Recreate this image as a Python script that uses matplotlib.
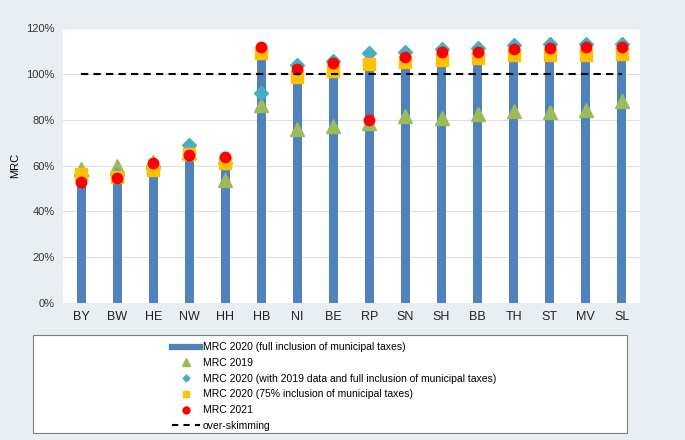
import numpy as np
import matplotlib.pyplot as plt
from matplotlib.lines import Line2D
from matplotlib.patches import Rectangle

plt.rcParams['font.family'] = ['Liberation Sans', 'DejaVu Sans']

# Datos (valores en %)
estados = ["BY", "BW", "HE", "NW", "HH", "HB", "NI", "BE",
           "RP", "SN", "SH", "BB", "TH", "ST", "MV", "SL"]
mrc2020_full = [55, 55, 59, 66, 61, 110, 100, 103, 106, 107, 108, 108.5, 110, 110, 110, 110]
mrc2019 = [58.5, 60, 61.5, 66, 53.7, 86.4, 76.2, 77.2, 78.7, 81.7, 80.6, 82.5, 83.8, 83.2, 84.2, 88.1]
mrc2020_datos2019 = [56, 56, 60, 69, 61, 91.5, 104.1, 105.6, 109, 109.7, 110.7, 111.4, 112.6, 112.9, 112.9, 113]
mrc2020_75 = [56.2, 55, 58, 65.3, 61, 109.2, 98.8, 101.2, 104.3, 105.3, 106.3, 106.8, 108.2, 108.5, 108.2, 108.7]
mrc2021 = [53, 54.4, 61, 64.6, 63.8, 111.6, 102, 104.6, 79.9, 107.2, 109.4, 109.7, 110.8, 111.4, 111.6, 111.6]
umbral = 100

fondo = "#e8eef1"
x = np.arange(len(estados))

fig = plt.figure(figsize=(6.85, 4.4), dpi=100, facecolor=fondo)
ax = fig.add_axes([0.092, 0.311, 0.842, 0.625])
ax.set_facecolor("white")

ax.bar(x, mrc2020_full, width=0.25, color="#4f81bd", zorder=2)
ax.plot(x, mrc2019, ls="none", marker="^", ms=10, color="#9bbb59", zorder=3)
ax.plot(x, mrc2020_datos2019, ls="none", marker="D", ms=7, color="#4bacc6", zorder=4)
ax.plot(x, mrc2020_75, ls="none", marker="s", ms=9, color="#ffc000", zorder=5)
ax.plot(x, mrc2021, ls="none", marker="o", ms=7.5, color="#ff0000", zorder=6)
ax.plot([x[0], x[-1]], [umbral, umbral], ls=(0, (3.5, 2.5)), lw=1.5, color="black", zorder=7)

ax.set_xlim(-0.5, len(estados) - 0.5)
ax.set_ylim(0, 120)
ax.set_yticks(np.arange(0, 121, 20))
ax.set_yticklabels([f"{v}%" for v in range(0, 121, 20)], fontsize=8, color="#333333")
ax.set_xticks(x)
ax.set_xticklabels(estados, fontsize=9, color="#222222")
ax.tick_params(length=0, pad=6)
ax.grid(axis="y", color="#e0e0e0", lw=0.8, zorder=0)
for s in ax.spines.values():
    s.set_visible(False)
fig.text(15 / 685, 1 - 165 / 440, "MRC", rotation=90, ha="center", va="center", fontsize=8)

# Leyenda
fig.patches.append(Rectangle((33 / 685, 1 - 433 / 440), 594 / 685, 98 / 440,
                             transform=fig.transFigure, facecolor="white",
                             edgecolor="#7f7f7f", lw=0.8))
handles = [
    Line2D([], [], color="#4f81bd", lw=4.5),
    Line2D([], [], ls="none", marker="^", ms=6, color="#9bbb59"),
    Line2D([], [], ls="none", marker="D", ms=3.5, color="#4bacc6"),
    Line2D([], [], ls="none", marker="s", ms=5, color="#ffc000"),
    Line2D([], [], ls="none", marker="o", ms=5, color="#ff0000"),
    Line2D([], [], ls=(0, (3, 2.5)), lw=1.5, color="black"),
]
labels = ["MRC 2020 (full inclusion of municipal taxes)",
          "MRC 2019",
          "MRC 2020 (with 2019 data and full inclusion of municipal taxes)",
          "MRC 2020 (75% inclusion of municipal taxes)",
          "MRC 2021",
          "over-skimming"]
fig.legend(handles, labels, loc="upper left", bbox_to_anchor=(165 / 685, 1 - 335 / 440),
           frameon=False, fontsize=7.5, handlelength=2.7, handletextpad=0.2,
           labelspacing=0.55, borderpad=0.2)

plt.savefig("out.png", dpi=100, facecolor=fondo)
